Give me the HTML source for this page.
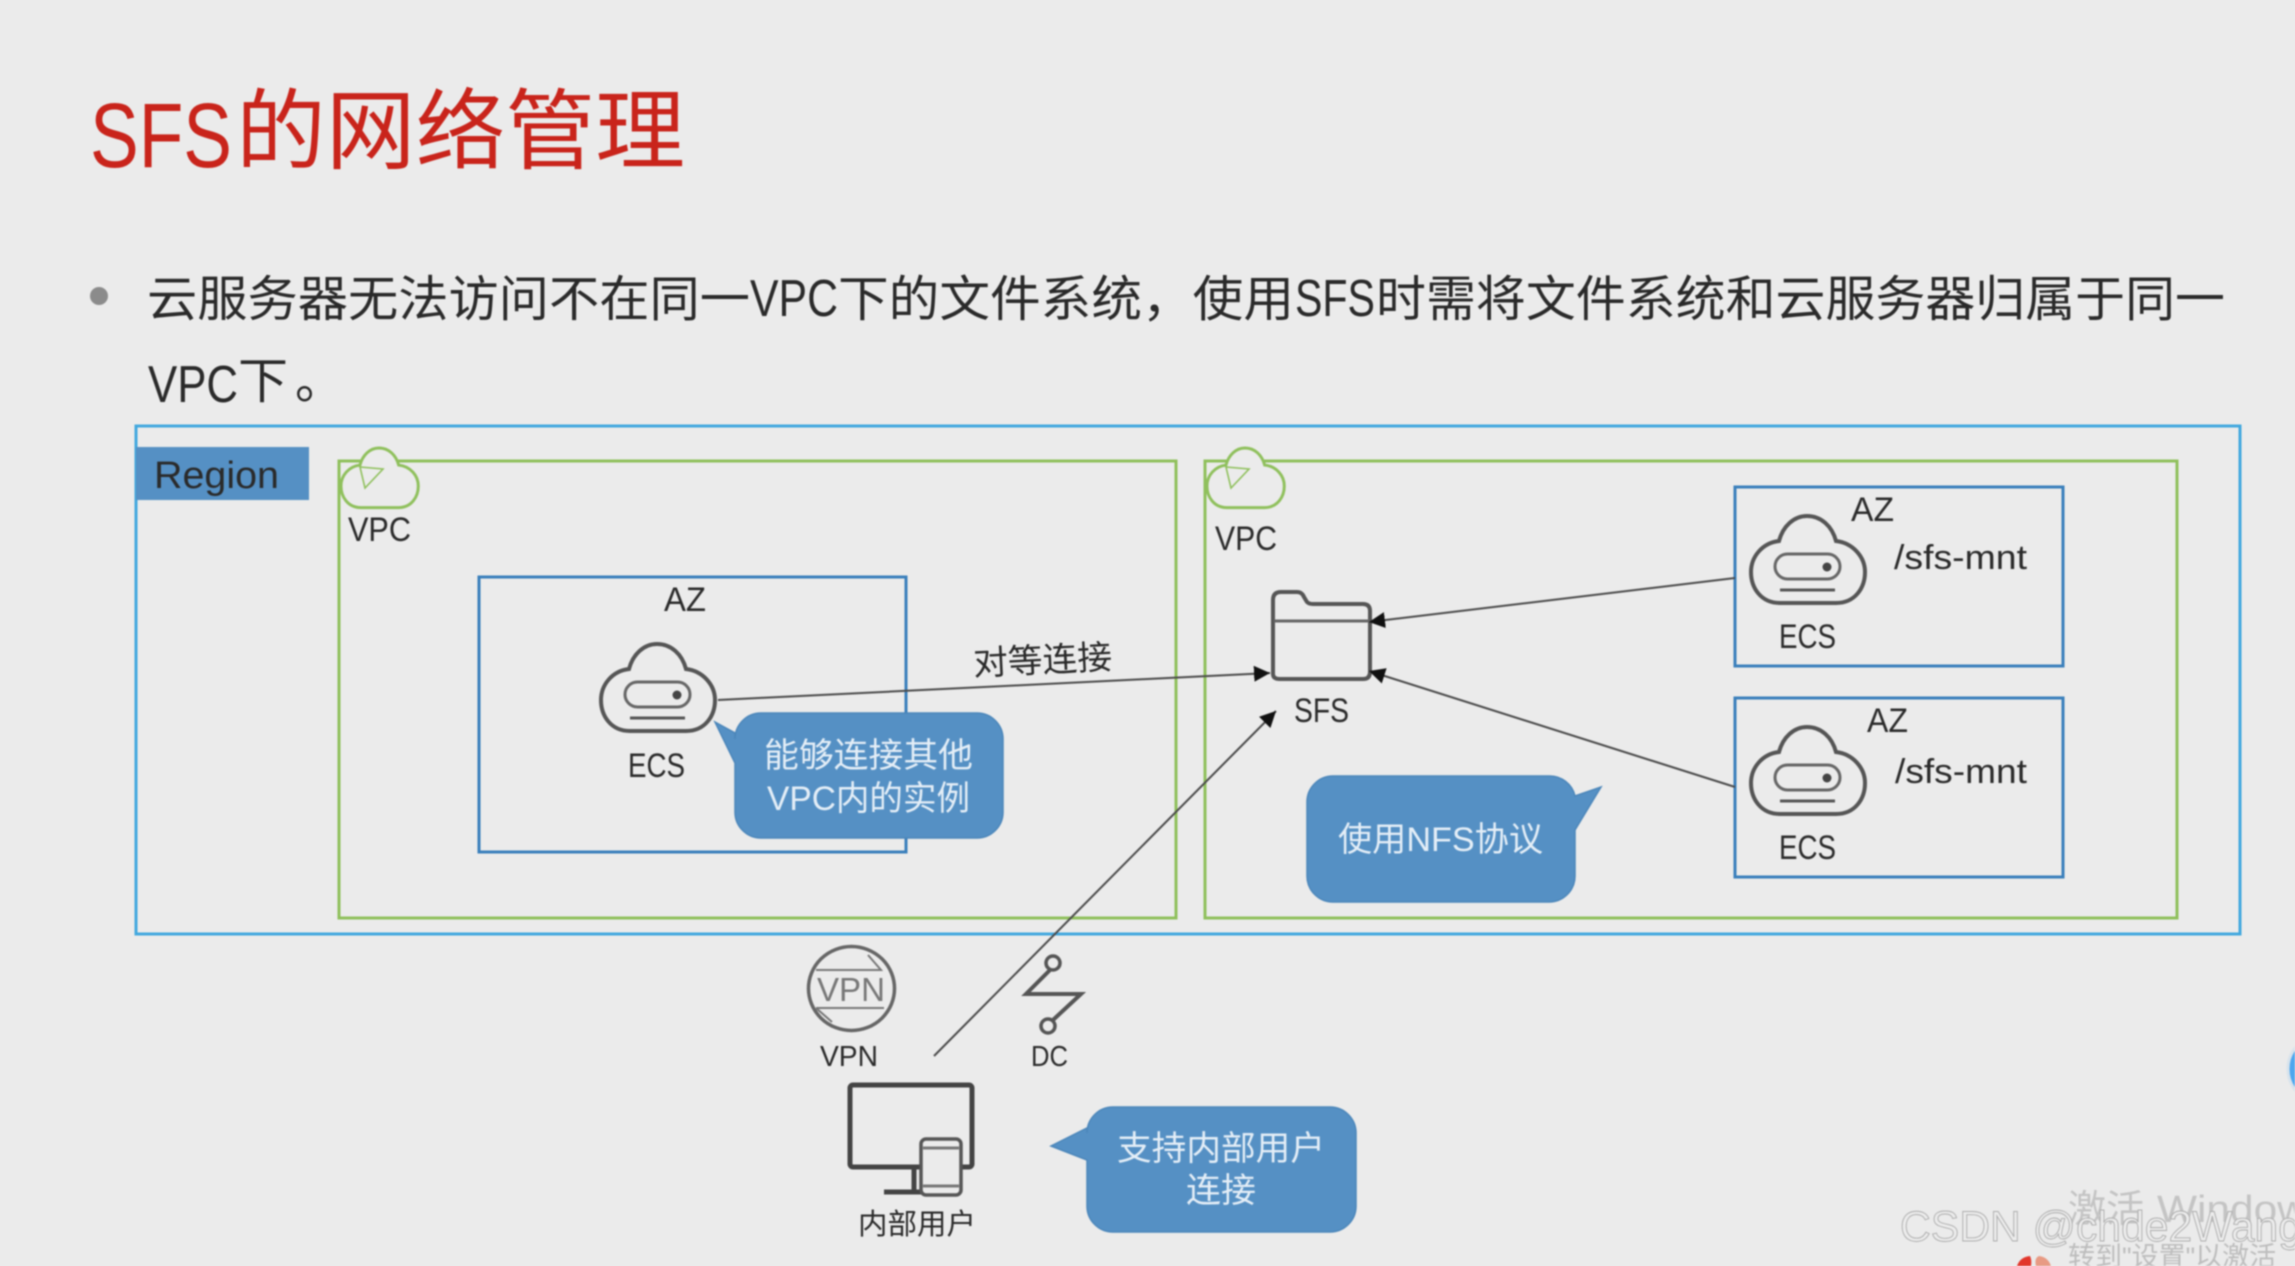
<!DOCTYPE html>
<html lang="zh"><head><meta charset="utf-8"><title>SFS的网络管理</title>
<style>
html,body{margin:0;padding:0;background:#ebebeb;width:2295px;height:1266px;overflow:hidden}
svg{display:block;filter:blur(.9px)}
text{font-family:"Liberation Sans","Noto Sans CJK SC",sans-serif;fill:#2a2a2a}
.c{fill:#e4eef7}
</style></head><body>
<svg xmlns="http://www.w3.org/2000/svg" width="2295" height="1266" viewBox="0 0 2295 1266">
<defs>
<marker id="a" markerUnits="userSpaceOnUse" markerWidth="18" markerHeight="16" refX="16" refY="8" orient="auto"><path d="M0 0L16 8L0 16Z" fill="#111"/></marker>
<path id="cl" d="M31 89C12 89 2 74 2 58C2 43 13 29 30 27C34 12 45 2 58 2C72 2 83 12 87 27C104 29 116 43 116 58C116 74 106 89 87 89Z"/>
<g id="ecs"><use href="#cl" fill="none" stroke="#555" stroke-width="4"/>
<rect x="26" y="40" width="65" height="25" rx="12.5" fill="none" stroke="#666" stroke-width="3"/><circle cx="78" cy="53" r="4.5" fill="#444"/><path d="M31 76H86" stroke="#555" stroke-width="3"/></g>
<g id="gc"><path transform="scale(.655)" d="M30 91C10 91 0 74 0 58C0 42 12 28 29 26C33 11 44 0 58 0C73 0 84 11 88 26C106 28 118 42 118 58C118 74 108 91 88 91Z" fill="#ebebeb" stroke="#8fc05c" stroke-width="4.5"/><path d="M19 19L42 21L24 40Z" fill="none" stroke="#8fc05c" stroke-width="1.6"/></g>
</defs>
<rect width="2295" height="1266" fill="#ebebeb"/>

<!-- title -->
<text x="90" y="167" font-size="92" textLength="142" lengthAdjust="spacingAndGlyphs" style="fill:#c9241b">SFS</text>
<text x="236" y="162" font-size="88" textLength="449" lengthAdjust="spacingAndGlyphs" style="fill:#c9241b">的网络管理</text>

<!-- bullet -->
<ellipse cx="99" cy="296" rx="9" ry="9" fill="#8b8b8b"/>
<g font-size="49">
<text x="147" y="316" textLength="603" lengthAdjust="spacingAndGlyphs">云服务器无法访问不在同一</text>
<text x="750" y="316" font-size="52" textLength="88" lengthAdjust="spacingAndGlyphs">VPC</text>
<text x="838" y="316" textLength="456" lengthAdjust="spacingAndGlyphs">下的文件系统，使用</text>
<text x="1295" y="316" font-size="52" textLength="80" lengthAdjust="spacingAndGlyphs">SFS</text>
<text x="1376" y="316" textLength="849" lengthAdjust="spacingAndGlyphs">时需将文件系统和云服务器归属于同一</text>
<text x="148" y="402" font-size="52" textLength="90" lengthAdjust="spacingAndGlyphs">VPC</text>
<text x="238" y="398" textLength="50" lengthAdjust="spacingAndGlyphs">下</text>
<text x="295" y="398">。</text>
</g>

<!-- region -->
<rect x="136" y="426" width="2104" height="508" fill="none" stroke="#42a8de" stroke-width="3"/>
<rect x="136" y="447" width="173" height="53" fill="#5590c4"/>
<text x="154" y="488" font-size="38" textLength="125" lengthAdjust="spacingAndGlyphs">Region</text>

<!-- VPC boxes -->
<rect x="339" y="461" width="837" height="457" fill="none" stroke="#8fc05c" stroke-width="3"/>
<rect x="1205" y="461" width="972" height="457" fill="none" stroke="#8fc05c" stroke-width="3"/>
<use href="#gc" x="341" y="448"/>
<use href="#gc" x="1207" y="448"/>
<text x="348" y="541" font-size="34" textLength="63" lengthAdjust="spacingAndGlyphs">VPC</text>
<text x="1215" y="550" font-size="34" textLength="62" lengthAdjust="spacingAndGlyphs">VPC</text>

<!-- AZ boxes -->
<g fill="none" stroke="#3a7fbb" stroke-width="3">
<rect x="479" y="577" width="427" height="275"/>
<rect x="1735" y="487" width="328" height="179"/>
<rect x="1735" y="698" width="328" height="179"/>
</g>
<g font-size="34">
<text x="664" y="611" textLength="42" lengthAdjust="spacingAndGlyphs">AZ</text>
<text x="1851" y="521" textLength="43" lengthAdjust="spacingAndGlyphs">AZ</text>
<text x="1867" y="732" textLength="41" lengthAdjust="spacingAndGlyphs">AZ</text>
<text x="1894" y="569" textLength="133" lengthAdjust="spacingAndGlyphs">/sfs-mnt</text>
<text x="1895" y="783" textLength="132" lengthAdjust="spacingAndGlyphs">/sfs-mnt</text>
<text x="628" y="777" textLength="57" lengthAdjust="spacingAndGlyphs">ECS</text>
<text x="1779" y="648" textLength="57" lengthAdjust="spacingAndGlyphs">ECS</text>
<text x="1779" y="859" textLength="57" lengthAdjust="spacingAndGlyphs">ECS</text>
<text x="1294" y="722" textLength="55" lengthAdjust="spacingAndGlyphs">SFS</text>
</g>

<!-- ECS icons -->
<use href="#ecs" x="599" y="642"/>
<use href="#ecs" x="1749" y="514"/>
<use href="#ecs" x="1749" y="725"/>

<!-- SFS folder -->
<path d="M1273 674V600Q1273 592 1281 592H1297Q1302 592 1304 597L1307 602Q1309 604 1313 604H1363Q1370 604 1370 611V672Q1370 679 1363 679H1280Q1273 679 1273 674Z" fill="none" stroke="#555" stroke-width="4"/>
<path d="M1274 621H1370" stroke="#666" stroke-width="3"/>

<!-- connectors -->
<g stroke="#4a4a4a" stroke-width="2" fill="none">
<path d="M718 700L1270 673" marker-end="url(#a)"/>
<path d="M1735 578L1369 622" marker-end="url(#a)"/>
<path d="M1735 787L1369 671" marker-end="url(#a)"/>
<path d="M934 1056L1276 711" marker-end="url(#a)"/>
</g>
<text x="973" y="672" font-size="34" textLength="139" lengthAdjust="spacingAndGlyphs" transform="rotate(-2.8 1042 659)">对等连接</text>

<!-- callouts -->
<g fill="#5590c4" stroke="#4b86ba" stroke-width="1.5">
<path d="M761 713H977A26 26 0 0 1 1003 739V812A26 26 0 0 1 977 838H761A26 26 0 0 1 735 812V763L715 722L735 733V739A26 26 0 0 1 761 713Z"/>
<path d="M1333 776H1549A26 26 0 0 1 1575 796L1601 787L1575 830V876A26 26 0 0 1 1549 902H1333A26 26 0 0 1 1307 876V802A26 26 0 0 1 1333 776Z"/>
<path d="M1113 1107H1330A26 26 0 0 1 1356 1133V1206A26 26 0 0 1 1330 1232H1113A26 26 0 0 1 1087 1206V1160L1051 1146L1087 1128V1133A26 26 0 0 1 1113 1107Z"/>
</g>
<g font-size="34">
<text class="c" x="764" y="767" textLength="209" lengthAdjust="spacingAndGlyphs">能够连接其他</text>
<text class="c" x="767" y="810" textLength="203" lengthAdjust="spacingAndGlyphs">VPC内的实例</text>
<text class="c" x="1338" y="851" textLength="205" lengthAdjust="spacingAndGlyphs">使用NFS协议</text>
<text class="c" x="1117" y="1160" textLength="208" lengthAdjust="spacingAndGlyphs">支持内部用户</text>
<text class="c" x="1186" y="1202" textLength="70" lengthAdjust="spacingAndGlyphs">连接</text>
</g>

<!-- VPN -->
<ellipse cx="851.5" cy="988.5" rx="43" ry="42" fill="none" stroke="#666" stroke-width="3.5"/>
<path d="M816 970H881L868 955M816 1008H884M816 1008L832 1022" fill="none" stroke="#777" stroke-width="2"/>
<text x="817" y="1001" font-size="33" textLength="68" lengthAdjust="spacingAndGlyphs" style="fill:#777">VPN</text>
<text x="820" y="1066" font-size="29" textLength="58" lengthAdjust="spacingAndGlyphs">VPN</text>

<!-- DC -->
<circle cx="1053" cy="963" r="7" fill="none" stroke="#555" stroke-width="3.5"/>
<circle cx="1048" cy="1026" r="7" fill="none" stroke="#555" stroke-width="3.5"/>
<path d="M1050 970L1026 994H1081L1053 1020" fill="none" stroke="#555" stroke-width="4"/>
<text x="1031" y="1066" font-size="29" textLength="37" lengthAdjust="spacingAndGlyphs">DC</text>

<!-- user -->
<rect x="850" y="1085" width="122" height="82" rx="3" fill="none" stroke="#444" stroke-width="5"/>
<path d="M914 1168V1192M884 1192H925" stroke="#444" stroke-width="5" fill="none"/>
<rect x="921" y="1139" width="40" height="56" rx="5" fill="#ebebeb" stroke="#555" stroke-width="3.5"/>
<path d="M923 1148H959M923 1186H959" stroke="#777" stroke-width="3"/>
<text x="858" y="1234" font-size="29" textLength="118" lengthAdjust="spacingAndGlyphs">内部用户</text>

<!-- overlays at the corner -->
<circle cx="2322" cy="1069" r="34" fill="#4da6ee" stroke="#d8e3ec" stroke-width="3"/>
<text x="2068" y="1222" font-size="38" style="fill:#c4c4c4">激活</text>
<text x="2157" y="1222" font-size="38" textLength="172" lengthAdjust="spacingAndGlyphs" style="fill:#c4c4c4">Windows</text>
<text x="2068" y="1266" font-size="27" style="fill:#bdbdbd">转到"设置"以激活</text>
<path d="M2017 1266Q2020 1257 2030 1256Q2032 1260 2031 1266Z" fill="#e2362b"/>
<path d="M2036 1266Q2034 1258 2039 1256Q2048 1257 2051 1266Z" fill="#e89a83"/>
<text x="1900" y="1241" font-size="43" textLength="402" lengthAdjust="spacingAndGlyphs" style="fill:#ececec;stroke:#ababab;stroke-width:.9">CSDN @chde2Wang</text>
</svg>
</body></html>
